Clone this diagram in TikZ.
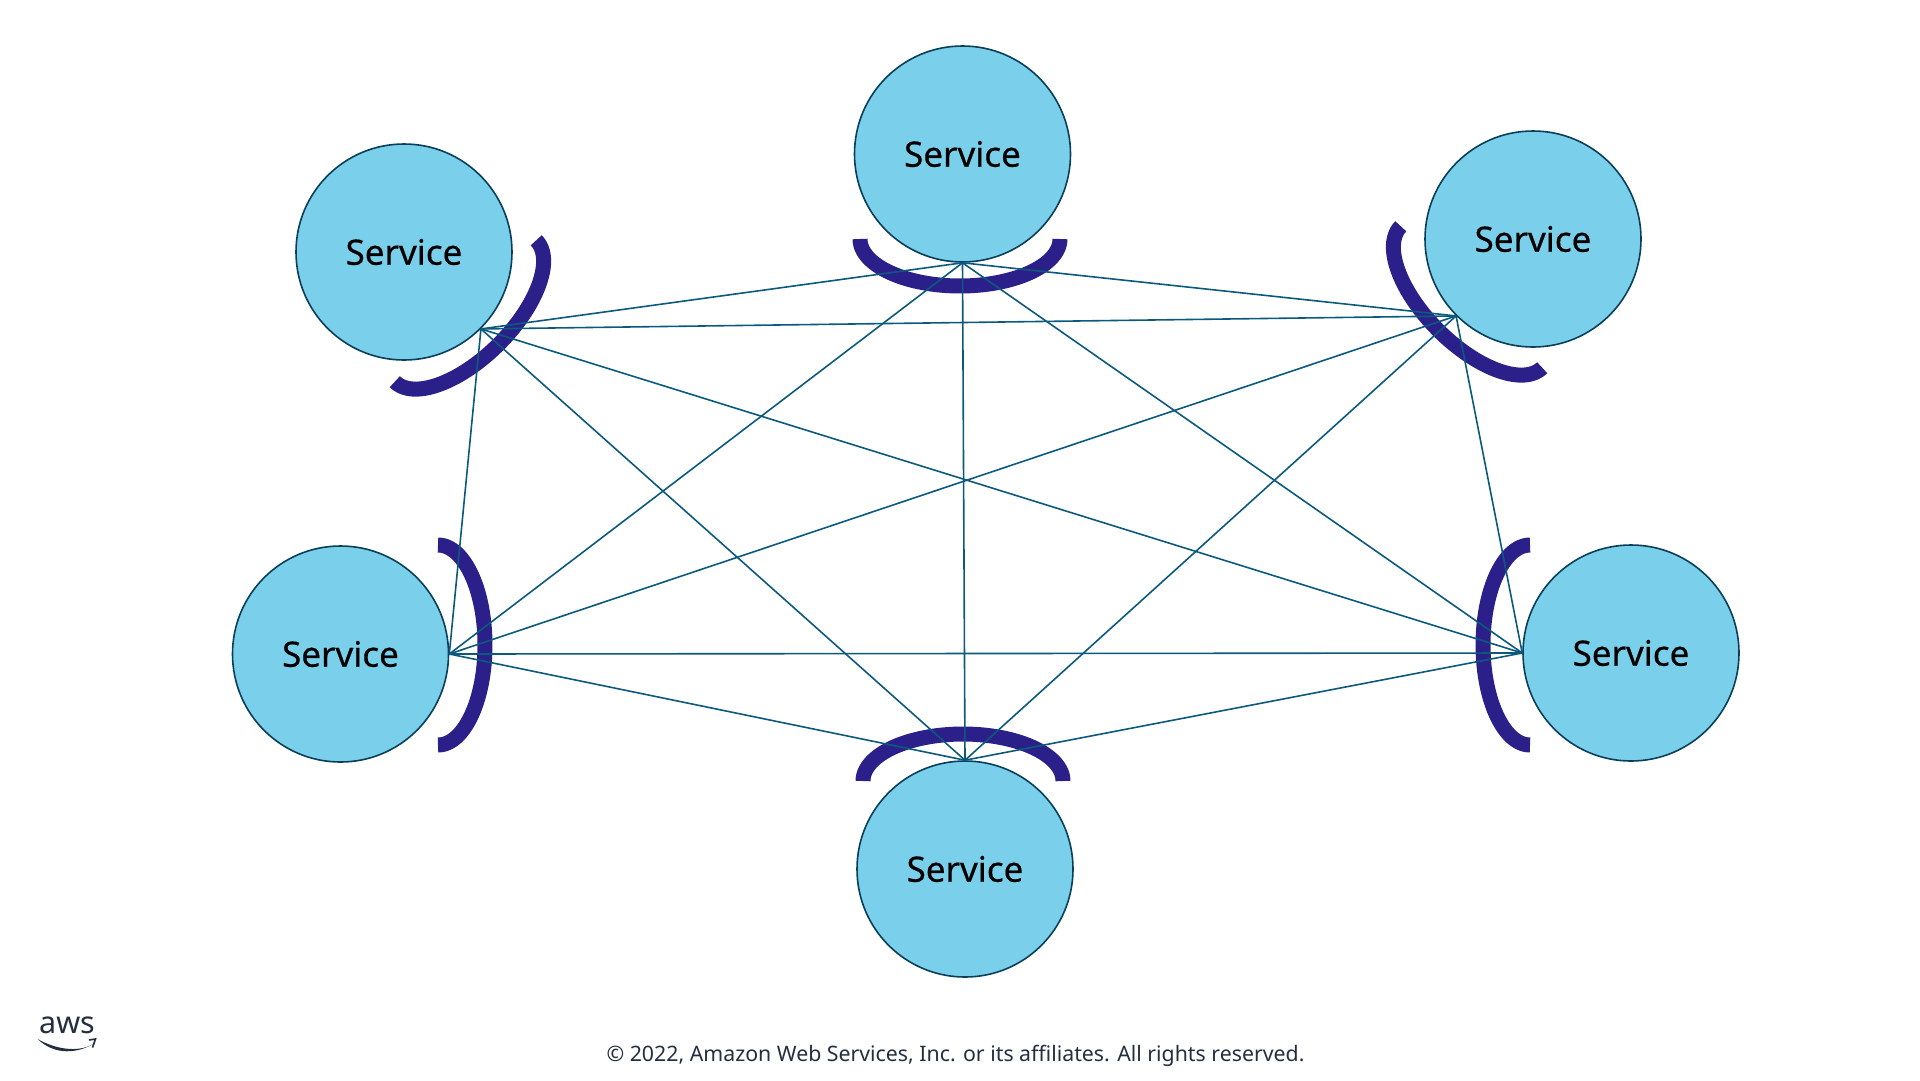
\documentclass[tikz,border=0pt]{standalone}
\usepackage{fontspec}
\setmainfont{Noto Sans}
\newfontfamily\svcfont[FakeBold=0.5]{Noto Sans}
\definecolor{svcfill}{HTML}{7AD0EB}
\definecolor{svcline}{HTML}{0A3F5A}
\definecolor{linkc}{HTML}{0B5A7E}
\definecolor{arcc}{HTML}{2B2089}
\definecolor{inkc}{HTML}{232F3E}
\tikzset{
  service/.style={circle,draw=svcline,line width=1.6pt,fill=svcfill,minimum size=216pt,inner sep=0pt,font=\svcfont\fontsize{35}{41}\selectfont,text=black},
  link/.style={draw=linkc,line width=1.6pt},
  shield/.style={draw=arcc,line width=15pt,line cap=butt},
}
% centre, unit vector along the chord, unit vector towards the apex
\newcommand{\shieldarc}[6]{%
  \draw[shield] plot[domain=0:180,samples=72,smooth] ({#1+100*cos(\x)*(#3)+47*sin(\x)*(#5)},{#2+100*cos(\x)*(#4)+47*sin(\x)*(#6)});}
\begin{document}
\begin{tikzpicture}[x=1pt,y=-1pt]
\useasboundingbox (0,0) rectangle (1920,1080);
\shieldarc{963}{781}{1}{0}{0}{-1}
\shieldarc{960}{239}{1}{0}{0}{1}
\shieldarc{438}{645}{0}{1}{1}{0}
\shieldarc{1530}{645}{0}{1}{-1}{0}
\shieldarc{465.5}{311}{0.707}{-0.707}{0.707}{0.707}
\shieldarc{1471.5}{297}{0.707}{0.707}{-0.707}{0.707}
% services
\node[service] (tl) at (404,252) {Service};
\node[service] (tc) at (962.5,154) {Service};
\node[service] (tr) at (1533,239) {Service};
\node[service] (ml) at (340.5,654) {Service};
\node[service] (mr) at (1631,653) {Service};
\node[service] (bc) at (965,869) {Service};
% mesh
\coordinate (ptl) at (tl.-45);
\coordinate (ptc) at (tc.south);
\coordinate (ptr) at (tr.-135);
\coordinate (pml) at (ml.east);
\coordinate (pmr) at (mr.west);
\coordinate (pbc) at (bc.north);
\foreach \a/\b in {ptl/ptc,ptl/ptr,ptl/pmr,ptl/pbc,ptl/pml,ptc/ptr,ptc/pml,ptc/pbc,ptc/pmr,ptr/pml,ptr/pbc,ptr/pmr,pml/pmr,pml/pbc,pmr/pbc}
  \draw[link] (\a) -- (\b);
% footer
\node[text=inkc,font=\fontsize{21.3}{26}\selectfont] (copy) at (955.5,1056) {© 2022, Amazon Web Services, Inc. or its affiliates. All rights reserved.};
\node[text=inkc,font=\fontsize{30.5}{31}\selectfont,inner sep=0pt] (aws) at (67,1025.5) {aws};
\fill[inkc] (37.7,1039) .. controls (55,1049) and (78,1053) .. (93,1044) .. controls (78,1053) and (55,1056) .. cycle;
\draw[inkc,line width=1.6pt] (89,1040) -- (95.5,1039) -- (92.5,1047.5);
\end{tikzpicture}
\end{document}
